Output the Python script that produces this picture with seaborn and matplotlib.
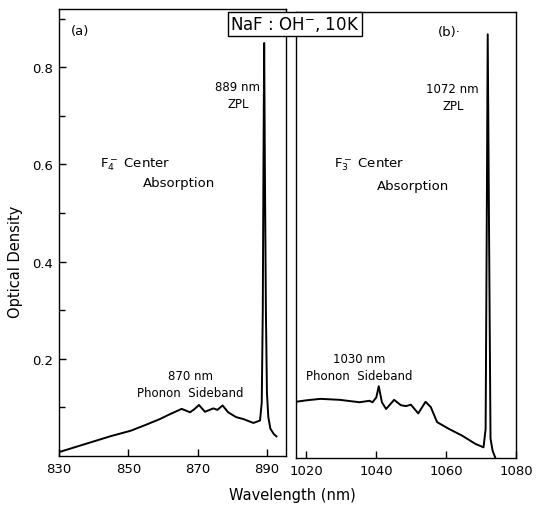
import numpy as np
import pandas as pd
import matplotlib
matplotlib.use("Agg")
import matplotlib.pyplot as plt
import seaborn as sns

# ---- data ----
wl_a = [830, 835, 840, 845, 850.7, 855, 859.1, 862, 865.4, 867.8, 869, 870.4, 872.1,
        873.5, 874.5, 875.7, 877.2, 878.8, 881.1, 883.2, 886.1, 888.0, 888.5, 888.8,
        889.0, 889.2, 889.4, 889.7, 890.0, 890.4, 891.0, 892.0, 892.8]
od_a = [0.008, 0.019, 0.030, 0.041, 0.052, 0.064, 0.076, 0.086, 0.097, 0.090, 0.096,
        0.105, 0.091, 0.095, 0.098, 0.095, 0.104, 0.090, 0.080, 0.076, 0.068, 0.073,
        0.11, 0.30, 0.60, 0.85, 0.60, 0.30, 0.13, 0.08, 0.056, 0.045, 0.040]

wl_b = [1017, 1020, 1024, 1029.5, 1035.2, 1038, 1038.9, 1040, 1040.7, 1041.6, 1042.8,
        1045.1, 1047.0, 1048.5, 1049.9, 1052.0, 1054.1, 1055.6, 1057.4, 1060.8, 1064.6,
        1068.4, 1070.7, 1071.3, 1071.6, 1071.9, 1072.3, 1072.7, 1073.3, 1074.1]
od_b = [0.116, 0.119, 0.122, 0.120, 0.115, 0.118, 0.115, 0.125, 0.148, 0.115, 0.101,
        0.120, 0.109, 0.107, 0.110, 0.092, 0.116, 0.105, 0.074, 0.060, 0.046, 0.029,
        0.022, 0.06, 0.45, 0.874, 0.45, 0.04, 0.015, 0.0]

xticks_a = [830, 850, 870, 890]
xticks_b = [1020, 1040, 1060, 1080]
yticks = [0.2, 0.4, 0.6, 0.8]
yminor = [0.1, 0.3, 0.5, 0.7, 0.9]

sns.set_theme(style="ticks")
plt.rcParams['font.family'] = ['DejaVu Sans']
plt.rcParams['text.color'] = 'black'
plt.rcParams['axes.labelcolor'] = 'black'
plt.rcParams['xtick.color'] = 'black'
plt.rcParams['ytick.color'] = 'black'

W, H = 537, 506
fig = plt.figure(figsize=(W / 100, H / 100), dpi=100)

def box(l, r, t, b):
    return [l / W, 1 - b / H, (r - l) / W, (b - t) / H]

ax_a = fig.add_axes(box(59, 286, 10, 457))
ax_b = fig.add_axes(box(296, 516, 13, 459))

df_a = pd.DataFrame({"wl": wl_a, "od": od_a})
df_b = pd.DataFrame({"wl": wl_b, "od": od_b})
sns.lineplot(data=df_a, x="wl", y="od", ax=ax_a, color="black", lw=1.4, estimator=None)
sns.lineplot(data=df_b, x="wl", y="od", ax=ax_b, color="black", lw=1.4, estimator=None)

for ax in (ax_a, ax_b):
    ax.set_ylim(0, 0.92)
    ax.set_xlabel("")
    ax.set_ylabel("")
    for s in ax.spines.values():
        s.set_visible(True)
        s.set_linewidth(1.0)
        s.set_color("black")
    ax.tick_params(direction="in", length=5, width=1, labelsize=9.5, pad=4,
                   colors="black", labelcolor="black")

ax_a.set_xlim(830, 895.5)
ax_a.set_xticks(xticks_a)
ax_a.set_yticks(yticks)
ax_a.set_yticklabels([f"{v:.1f}" for v in yticks])
ax_a.set_yticks(yminor, minor=True)
ax_a.tick_params(axis="y", which="minor", direction="in", length=4, width=1)

ax_b.set_xlim(1017, 1080)
ax_b.set_xticks(xticks_b)
ax_b.set_yticks([])

# annotations
fs = 8.5
ax_a.text(836, 0.876, "(a)", fontsize=9.5, ha="center", va="center")
ax_a.text(881.6, 0.744, "889 nm\nZPL", fontsize=fs, ha="center", va="center", linespacing=1.4)
ax_a.text(841.8, 0.602, "F$_4^-$ Center", fontsize=9.5, ha="left", va="center")
ax_a.text(854.2, 0.563, "Absorption", fontsize=9.5, ha="left", va="center")
ax_a.text(868, 0.148, "870 nm\nPhonon  Sideband", fontsize=fs, ha="center", va="center", linespacing=1.4)

ax_b.text(1061, 0.879, "(b)·", fontsize=9.5, ha="center", va="center")
ax_b.text(1061.9, 0.745, "1072 nm\nZPL", fontsize=fs, ha="center", va="center", linespacing=1.4)
ax_b.text(1027.8, 0.608, "F$_3^-$ Center", fontsize=9.5, ha="left", va="center")
ax_b.text(1040.1, 0.563, "Absorption", fontsize=9.5, ha="left", va="center")
ax_b.text(1035.2, 0.187, "1030 nm\nPhonon  Sideband", fontsize=fs, ha="center", va="center", linespacing=1.4)

fig.text(295 / W, 1 - 25 / H, "NaF : OH$^{-}$, 10K", fontsize=12, ha="center", va="center",
         bbox=dict(boxstyle="square,pad=0.15", fc="white", ec="black", lw=1.0), zorder=10)
fig.text(16 / W, 1 - 262 / H, "Optical Density", fontsize=10.5, rotation=90, ha="center", va="center")
fig.text(292 / W, 1 - 496 / H, "Wavelength (nm)", fontsize=10.5, ha="center", va="center")

fig.savefig("out.png", dpi=100)
